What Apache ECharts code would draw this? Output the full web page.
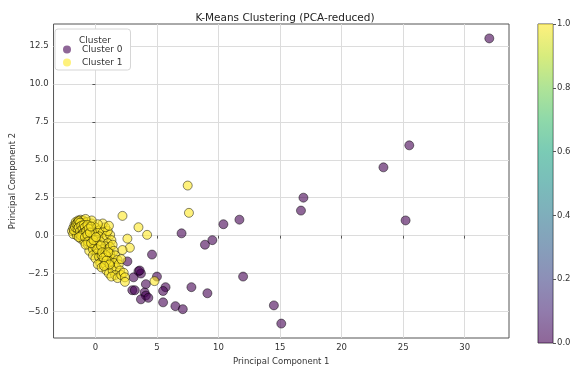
<!DOCTYPE html>
<html>
<head>
<meta charset="utf-8">
<script src="https://cdn.jsdelivr.net/npm/echarts@6/dist/echarts.min.js"></script>
<style>
  html, body { margin: 0; padding: 0; background: #fff; }
  #chart { width: 577px; height: 371px; }
</style>
</head>
<body>
<div id="chart"></div>
<script>
const cluster0 = [
  [32.0, 13.0], [25.5, 5.95], [23.4, 4.5], [16.9, 2.5], [16.7, 1.65], [25.2, 1.0],
  [7.0, 0.15], [10.4, 0.75], [11.7, 1.05], [8.9, -0.6], [9.5, -0.3], [12.0, -2.7],
  [7.8, -3.4], [9.1, -3.8], [14.5, -4.6], [15.1, -5.8], [4.6, -1.25], [2.6, -1.7],
  [3.5, -2.35], [3.7, -2.5], [3.6, -2.3], [3.1, -2.75], [5.0, -2.7], [5.7, -3.4],
  [5.5, -3.65], [4.1, -3.2], [3.0, -3.6], [3.2, -3.6], [4.0, -3.75], [4.1, -3.95],
  [3.7, -4.2], [4.3, -4.1], [5.5, -4.4], [6.5, -4.65], [7.1, -4.85]
];

const cluster1 = [
  [-1.9, 0.3], [-1.8, 0.5], [-1.7, 0.7], [-1.6, 0.9], [-1.4, 1.0], [-1.2, 1.05],
  [-1.0, 1.0], [-0.9, 0.85], [-1.5, 0.6], [-1.6, 0.2], [-1.8, 0.1], [-1.4, 0.35],
  [-1.3, 0.7], [-1.1, 0.8], [-1.2, 0.5], [-1.0, 0.6], [-0.8, 0.7], [-0.7, 0.9],
  [-1.5, 0.0], [-1.3, 0.1], [-1.1, 0.25], [-0.9, 0.4], [-0.7, 0.5], [-0.5, 0.65],
  [-0.6, 0.3], [-0.8, 0.15], [-1.0, -0.05], [-1.2, -0.2], [-0.4, 0.45], [-0.3, 0.8],
  [-0.1, 0.6], [0.1, 0.5], [-0.2, 0.2], [-0.5, 0.0], [-0.7, -0.2], [-0.9, -0.4],
  [-0.4, -0.3], [-0.2, -0.1], [0.0, 0.1], [0.2, 0.3], [0.4, 0.4], [0.6, 0.2],
  [0.3, -0.05], [0.1, -0.3], [-0.1, -0.5], [-0.3, -0.7], [-0.6, -0.6], [-0.5, -1.0],
  [-0.2, -0.9], [0.0, -0.75], [0.2, -0.6], [0.4, -0.4], [0.7, -0.2], [0.9, 0.0],
  [1.2, 0.05], [1.3, -0.3], [1.0, -0.5], [0.8, -0.7], [0.6, -0.9], [0.3, -1.0],
  [0.1, -1.2], [-0.2, -1.3], [0.0, -1.5], [0.3, -1.4], [0.5, -1.3], [0.8, -1.1],
  [1.0, -0.9], [1.2, -0.75], [1.4, -0.6], [1.5, -1.0], [1.2, -1.2], [1.0, -1.4],
  [0.7, -1.6], [0.4, -1.8], [0.2, -1.9], [0.5, -2.1], [0.8, -1.9], [1.1, -1.7],
  [1.3, -1.5], [1.6, -1.3], [1.8, -1.6], [1.5, -1.8], [1.2, -2.0], [0.9, -2.3],
  [1.1, -2.5], [1.4, -2.3], [1.7, -2.1], [1.9, -1.9], [2.0, -2.3], [1.6, -2.6],
  [1.3, -2.7], [1.8, -2.8], [2.1, -2.6], [1.0, 0.3], [0.8, 0.55], [0.6, 0.8],
  [0.2, 0.75], [-0.3, 1.0], [-0.8, 1.1],
  [-1.75, 0.35], [-1.65, 0.55], [-1.55, 0.75], [-1.45, 0.85], [-1.35, 0.95], [-1.25, 0.85],
  [-1.45, 0.45], [-1.35, 0.55], [-1.25, 0.3], [-1.15, 0.65], [-1.05, 0.45], [-0.95, 0.7],
  [-0.85, 0.55], [-0.95, 0.2], [-1.05, 0.1], [-1.15, 0.0], [-1.35, -0.1], [-0.75, 0.3],
  [-0.65, 0.7], [-0.55, 0.45], [-0.85, -0.1], [-0.65, 0.05], [-0.45, 0.2], [-0.35, 0.6],
  [-0.6, -0.4], [-0.8, -0.6], [-0.35, -0.5], [-0.15, -0.3], [0.05, -0.1], [0.15, -0.9],
  [0.45, -0.65], [0.55, -1.1], [0.85, -1.3], [0.65, -1.45], [1.05, -1.1], [0.9, -1.65],
  [1.15, -1.9], [0.7, -2.0],
  [1.1, 0.65], [2.2, 1.3], [3.5, 0.55], [4.2, 0.05], [2.6, -0.2], [2.8, -0.8],
  [2.2, -0.95], [2.1, -1.55], [2.3, -2.45], [2.4, -2.75], [2.4, -3.05], [4.8, -3.0],
  [7.5, 3.3], [7.6, 1.5]
];

const xTicks = [0, 5, 10, 15, 20, 25, 30];
const yTicks = [-5, -2.5, 0, 2.5, 5, 7.5, 10, 12.5];
const colorbarRange = [1];

const viridis = [
  '#440154', '#482475', '#414487', '#355f8d', '#2a788e', '#21918c',
  '#22a884', '#44bf70', '#7ad151', '#bddf26', '#fde725'
];

const FONT = 'DejaVu Sans';
const minus = v => String(v).replace('-', '\u2212');

const chart = echarts.init(document.getElementById('chart'), null, { renderer: 'canvas' });

const option = {
  backgroundColor: '#ffffff',
  animation: false,
  textStyle: { fontFamily: FONT },
  title: [
    {
      text: 'K-Means Clustering (PCA-reduced)',
      left: 280, top: 8, textAlign: 'center',
      textStyle: { fontSize: 10.5, fontWeight: 'normal', color: '#222', fontFamily: FONT }
    },
    {
      text: 'Cluster',
      left: 90, top: 31, textAlign: 'center', z: 10,
      textStyle: { fontSize: 9, fontWeight: 'normal', color: '#333', fontFamily: FONT }
    }
  ],
  legend: {
    orient: 'vertical',
    left: 55, top: 29,
    padding: [16, 8, 3, 8],
    itemGap: 4,
    itemWidth: 8, itemHeight: 8,
    backgroundColor: '#ffffff',
    borderColor: '#d6d6d6', borderWidth: 1, borderRadius: 3,
    itemStyle: { borderWidth: 0 },
    textStyle: { fontSize: 9, color: '#333', fontFamily: FONT, padding: [0, 0, 0, 6] },
    data: [
      { name: 'Cluster 0', icon: 'circle' },
      { name: 'Cluster 1', icon: 'circle' }
    ],
    z: 5
  },
  grid: [
    { left: 51, top: 24, width: 458, height: 319, show: true, borderColor: '#555', borderWidth: 1, backgroundColor: 'transparent' },
    { left: 538, top: 24, width: 15, height: 319, show: true, borderColor: '#555', borderWidth: 1 }
  ],
  xAxis: [
    {
      gridIndex: 0, type: 'value', min: -3.4, max: 33.6,
      name: 'Principal Component 1', nameLocation: 'middle', nameGap: 19,
      nameTextStyle: { fontSize: 8.5, color: '#333', fontFamily: FONT },
      axisLine: { show: false },
      axisTick: { show: true, length: 3, customValues: xTicks, lineStyle: { color: '#555' } },
      axisLabel: { customValues: xTicks, fontSize: 8.5, color: '#333', margin: 5, fontFamily: FONT },
      splitLine: { show: true, lineStyle: { color: '#dcdcdc', width: 1 } }
    },
    {
      gridIndex: 1, type: 'category', data: ['cb'], show: false
    }
  ],
  yAxis: [
    {
      gridIndex: 0, type: 'value', min: -6.75, max: 13.95,
      name: 'Principal Component 2', nameLocation: 'middle', nameGap: 31, nameRotate: 90,
      nameTextStyle: { fontSize: 8.5, color: '#333', fontFamily: FONT },
      axisLine: { show: false },
      axisTick: { show: true, length: 3, customValues: yTicks, lineStyle: { color: '#555' } },
      axisLabel: {
        customValues: yTicks, fontSize: 8.5, color: '#333', margin: 5, fontFamily: FONT,
        formatter: v => minus(Number(v).toFixed(1))
      },
      splitLine: { show: true, lineStyle: { color: '#dcdcdc', width: 1 } }
    },
    {
      gridIndex: 1, type: 'value', min: 0, max: 1, interval: 0.2, position: 'right',
      axisLine: { show: false },
      axisTick: { show: true, length: 3, lineStyle: { color: '#555' } },
      axisLabel: { fontSize: 8.5, color: '#333', margin: 4, fontFamily: FONT, formatter: v => Number(v).toFixed(1) },
      splitLine: { show: false }
    }
  ],
  series: [
    {
      name: 'Cluster 0', type: 'scatter', xAxisIndex: 0, yAxisIndex: 0,
      data: cluster0, symbolSize: 9,
      itemStyle: { color: '#440154', opacity: 0.6, borderColor: '#000', borderWidth: 0.8 }
    },
    {
      name: 'Cluster 1', type: 'scatter', xAxisIndex: 0, yAxisIndex: 0,
      data: cluster1, symbolSize: 9,
      itemStyle: { color: '#fde725', opacity: 0.6, borderColor: '#000', borderWidth: 0.8 }
    },
    {
      name: 'colorbar', type: 'bar', xAxisIndex: 1, yAxisIndex: 1,
      data: colorbarRange, barWidth: '100%', silent: true,
      itemStyle: {
        opacity: 0.6,
        color: new echarts.graphic.LinearGradient(0, 1, 0, 0,
          viridis.map((c, i) => ({ offset: i / (viridis.length - 1), color: c })))
      }
    }
  ]
};

chart.setOption(option);
</script>
</body>
</html>
